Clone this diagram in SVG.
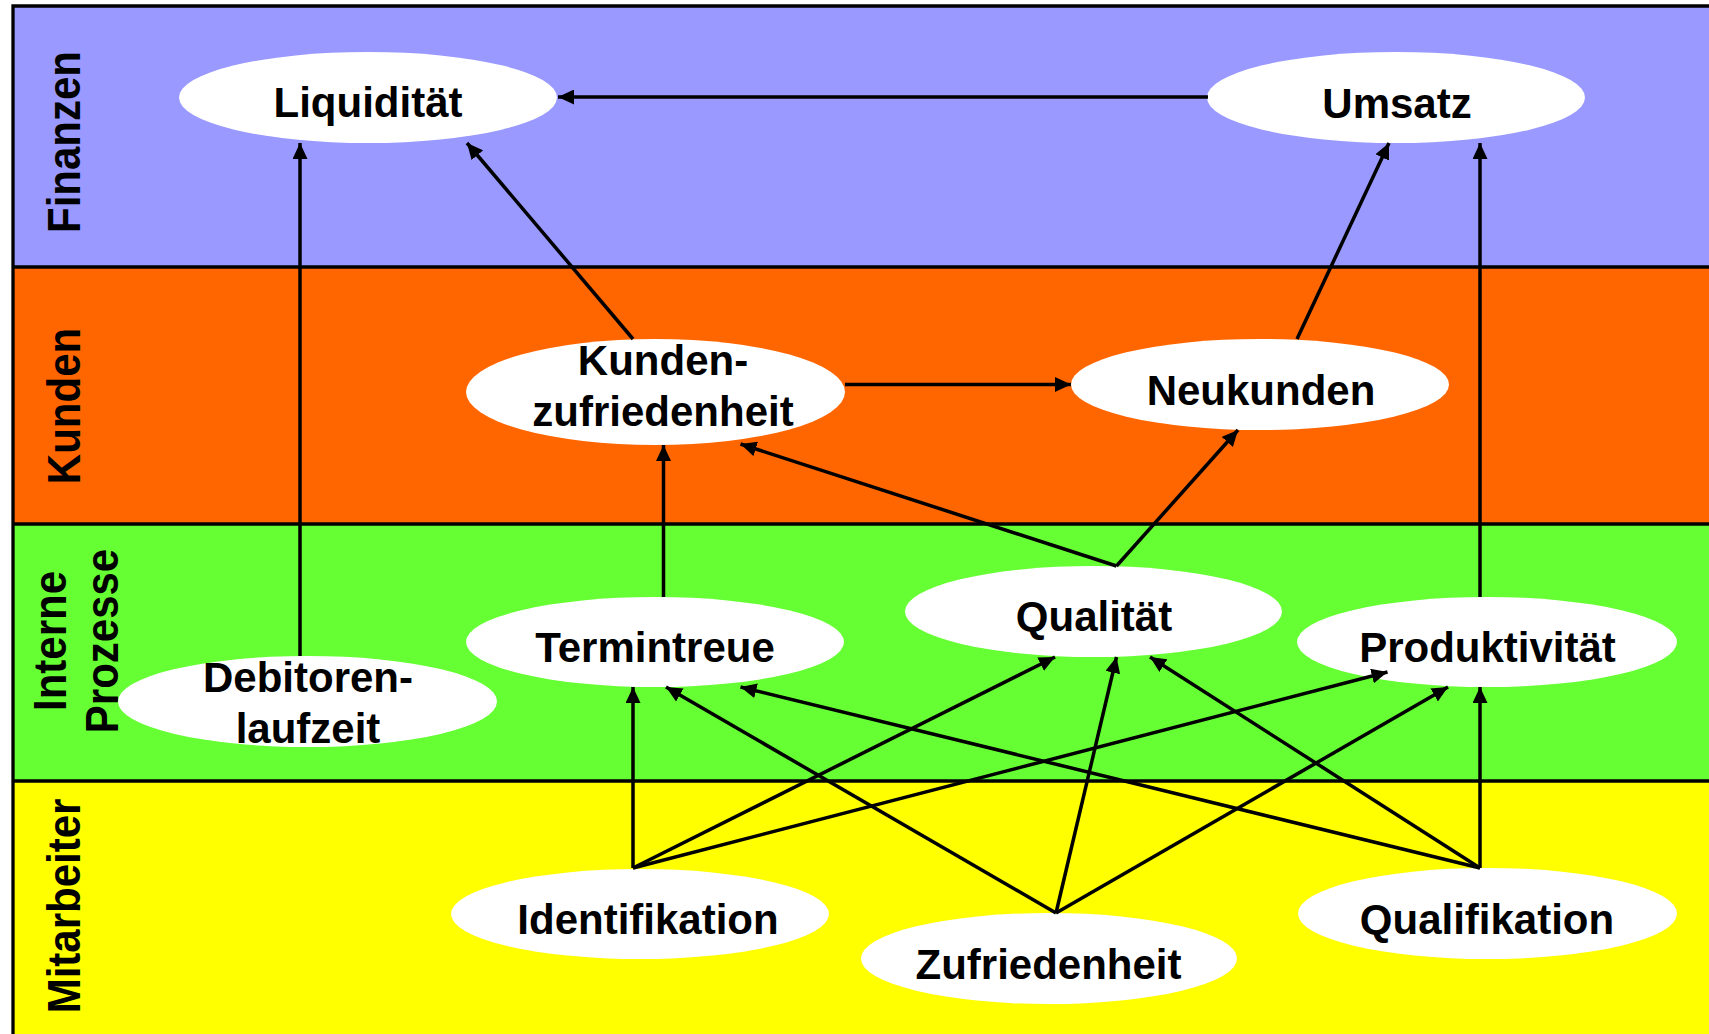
<svg xmlns="http://www.w3.org/2000/svg" width="1709" height="1034" viewBox="0 0 1709 1034">
<style>
.node ellipse{fill:#ffffff;stroke:none}
.node text{font-family:"Liberation Sans",Arial,sans-serif;font-weight:bold;font-size:42px;fill:#000;text-anchor:middle}
.lane text{font-family:"Liberation Sans",Arial,sans-serif;font-weight:bold;font-size:42px;fill:#000;text-anchor:middle}
.border{stroke:#000;stroke-width:3.3;fill:none}
.conn path{stroke:#000;stroke-width:3.5;fill:none;marker-end:url(#arr)}
</style>
<defs>
<marker id="arr" markerUnits="userSpaceOnUse" markerWidth="16" markerHeight="15" refX="16" refY="7.5" orient="auto">
<path d="M0,0 L16,7.5 L0,15 z" fill="#000"/>
</marker>
</defs>
<rect width="1709" height="1034" fill="#ffffff"/>
<g id="lanes">
<rect x="13" y="6" width="1700" height="261" fill="#9999FF"/>
<rect x="13" y="267" width="1700" height="257" fill="#FF6600"/>
<rect x="13" y="524" width="1700" height="257" fill="#66FF33"/>
<rect x="13" y="781" width="1700" height="260" fill="#FFFF00"/>
<path class="border" d="M13,1040 V6 H1712 M13,267 H1712 M13,524 H1712 M13,781 H1712"/>
</g>
<g id="lane-labels" class="lane">
<text transform="translate(80,142) rotate(-90) scale(1,1.08)">Finanzen</text>
<text transform="translate(80,406) rotate(-90) scale(1,1.08)">Kunden</text>
<text transform="translate(66,641) rotate(-90) scale(1,1.08)">Interne</text>
<text transform="translate(118,641) rotate(-90) scale(1,1.08)">Prozesse</text>
<text transform="translate(80,906) rotate(-90) scale(1,1.08)">Mitarbeiter</text>
</g>
<g id="n-liquiditaet" class="node"><ellipse cx="368" cy="97.5" rx="189" ry="45.5"/><text x="368" y="117">Liquidität</text></g>
<g id="n-umsatz" class="node"><ellipse cx="1396" cy="97.5" rx="189" ry="45.5"/><text x="1397" y="118">Umsatz</text></g>
<g id="n-kundenzufriedenheit" class="node"><ellipse cx="655.5" cy="392" rx="189.5" ry="53"/><text x="663" y="375">Kunden-</text><text x="663" y="426">zufriedenheit</text></g>
<g id="n-neukunden" class="node"><ellipse cx="1260" cy="384.5" rx="189" ry="45.5"/><text x="1261" y="405">Neukunden</text></g>
<g id="n-debitorenlaufzeit" class="node"><ellipse cx="307.5" cy="701.5" rx="189.5" ry="45.5"/><text x="308" y="692">Debitoren-</text><text x="308" y="743">laufzeit</text></g>
<g id="n-termintreue" class="node"><ellipse cx="655" cy="642" rx="189" ry="45"/><text x="655" y="662">Termintreue</text></g>
<g id="n-qualitaet" class="node"><ellipse cx="1093.5" cy="611.5" rx="188.5" ry="45.5"/><text x="1094" y="631">Qualität</text></g>
<g id="n-produktivitaet" class="node"><ellipse cx="1487" cy="642" rx="190" ry="45"/><text x="1487.5" y="662">Produktivität</text></g>
<g id="n-identifikation" class="node"><ellipse cx="640" cy="914" rx="189" ry="45"/><text x="648" y="934">Identifikation</text></g>
<g id="n-zufriedenheit" class="node"><ellipse cx="1049" cy="958.5" rx="188" ry="45.5"/><text x="1048.5" y="979">Zufriedenheit</text></g>
<g id="n-qualifikation" class="node"><ellipse cx="1487.5" cy="913.5" rx="189.5" ry="45.5"/><text x="1487" y="934">Qualifikation</text></g>
<g id="connectors" class="conn">
<path d="M1208,97 H558"/>
<path d="M300,656 V143"/>
<path d="M633,339 L467,143"/>
<path d="M1297,339 L1389,143"/>
<path d="M1480,597 V143"/>
<path d="M845,384.5 H1071"/>
<path d="M663.5,597 V445"/>
<path d="M1116.5,566 L740.5,444"/>
<path d="M1116.5,566 L1238,430"/>
<path d="M633,868 V687"/>
<path d="M633,868 L1055,657"/>
<path d="M633,868 L1387.5,672"/>
<path d="M1056,913 L666,687"/>
<path d="M1056,913 L1116.5,657"/>
<path d="M1056,913 L1448,687"/>
<path d="M1480,868 L740.5,687"/>
<path d="M1480,868 L1150,657"/>
<path d="M1480,868 V687"/>
</g>
</svg>
